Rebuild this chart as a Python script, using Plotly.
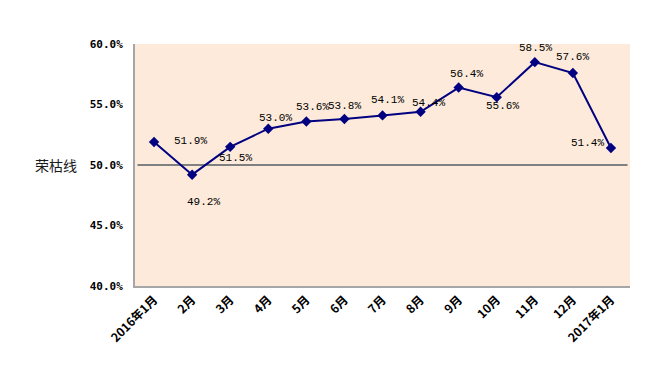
import plotly.graph_objects as go

months = ["2016年1月", "2月", "3月", "4月", "5月", "6月", "7月", "8月", "9月", "10月", "11月", "12月", "2017年1月"]
values = [51.9, 49.2, 51.5, 53.0, 53.6, 53.8, 54.1, 54.4, 56.4, 55.6, 58.5, 57.6, 51.4]
y_ticks = [40, 45, 50, 55, 60]
y_tick_labels = ["40.0%", "45.0%", "50.0%", "55.0%", "60.0%"]
threshold = 50.0
threshold_label = "荣枯线"

# label offsets in pixels (dx, dy) relative to each point
label_dx = [36, 11, 5, 7, 6, 0, 5, 8, 8, 6, 1, 0, -23]
label_dy = [1, -27, -11, 11, 14, 13, 15, 9, 14, -9, 14, 16, 5]

idx = list(range(len(months)))

fig = go.Figure()
fig.add_trace(go.Scatter(
    x=idx, y=values, mode="lines+markers",
    line=dict(color="#000080", width=2),
    marker=dict(symbol="diamond", size=8, color="#000080"),
    hoverinfo="skip", showlegend=False,
))

annotations = []
for i, v in enumerate(values):
    annotations.append(dict(
        x=i, y=v, xref="x", yref="y", text=f"{v:.1f}%", showarrow=False,
        xshift=label_dx[i], yshift=label_dy[i],
        font=dict(family="Liberation Mono, DejaVu Sans Mono, monospace", size=11, color="#000000"),
    ))
annotations.append(dict(
    x=0, y=threshold, xref="paper", yref="y", text=threshold_label, showarrow=False,
    xanchor="right", xshift=-56,
    font=dict(family="Noto Sans CJK SC", size=14, color="#1a1a1a"),
))

fig.add_shape(type="line", xref="paper", yref="y", x0=0.005, x1=0.995, y0=threshold, y1=threshold,
              line=dict(color="#808080", width=2), layer="below")

# page body has an 8px margin, so margins are compensated
fig.update_layout(
    width=672, height=371,
    margin=dict(l=127, r=50, t=36, b=93),
    paper_bgcolor="#FFFFFF",
    plot_bgcolor="#FDEADA",
    annotations=annotations,
    xaxis=dict(
        range=[-0.5, len(months) - 0.5],
        tickmode="array", tickvals=idx, ticktext=months,
        tickangle=-45, showgrid=False, zeroline=False,
        showline=True, linecolor="#A6A6A6", linewidth=2,
        ticks="", fixedrange=True, automargin=False,
        tickfont=dict(family="Noto Sans CJK SC", size=12, color="#000000", weight="bold"),
    ),
    yaxis=dict(
        range=[40, 60],
        tickmode="array", tickvals=y_ticks, ticktext=y_tick_labels,
        showgrid=False, zeroline=False, automargin=False,
        showline=True, linecolor="#A6A6A6", linewidth=2,
        ticks="", ticklabelstandoff=8,
        tickfont=dict(family="DejaVu Sans Mono", size=11, color="#000000", weight="bold"),
    ),
)

fig.write_html("out.html")
